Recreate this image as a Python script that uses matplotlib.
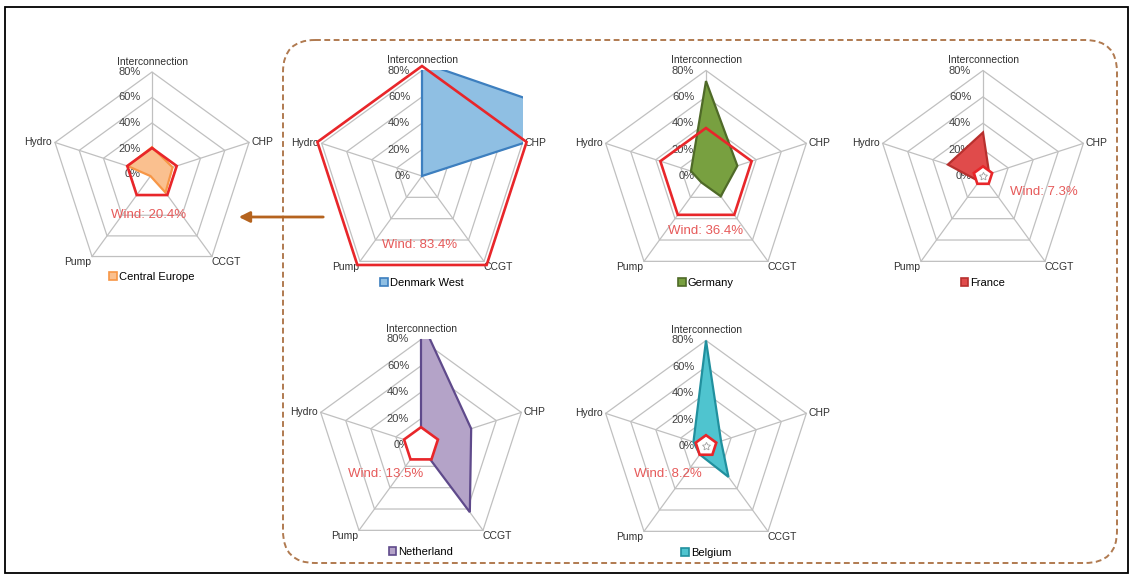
import numpy as np
import matplotlib.pyplot as plt
from matplotlib.patches import Patch, Polygon, FancyBboxPatch, FancyArrowPatch, Rectangle

plt.rcParams['font.family'] = ['Liberation Sans', 'DejaVu Sans']

# radar axes, clockwise from the top
categories = ['Interconnection', 'CHP', 'CCGT', 'Pump', 'Hydro']
ring_levels = [0.2, 0.4, 0.6, 0.8]
tick_values = [0.0, 0.2, 0.4, 0.6, 0.8]
tick_labels = ['0%', '20%', '40%', '60%', '80%']

regions = ['Central Europe', 'Denmark West', 'Germany', 'France', 'Netherland', 'Belgium']
central_europe = [0.21, 0.17, 0.18, 0.02, 0.20]
denmark_west = [0.86, 1.35, 0.0, 0.0, 0.0]
germany = [0.72, 0.25, 0.19, 0.06, 0.12]
france = [0.33, 0.05, 0.03, 0.05, 0.28]
netherland = [0.95, 0.40, 0.63, 0.01, 0.0]
belgium = [0.80, 0.12, 0.29, 0.08, 0.10]
wind_share = [20.4, 83.4, 36.4, 7.3, 13.5, 8.2]

series = [central_europe, denmark_west, germany, france, netherland, belgium]

fill_colors = ['#fac08f', '#8fbfe3', '#78a040', '#e04b4b', '#b4a3c8', '#4fc4cf']
edge_colors = ['#f79646', '#3d7fbf', '#4f6a28', '#b8302e', '#5f4a8b', '#21909e']
wind_color = '#e8262a'
wind_text_color = '#e65a5a'
grid_color = '#c0c0c0'

# chart centre and 80% radius in pixels
centers = [(152, 174), (422, 176), (706, 176), (983, 176), (421, 445), (706, 446)]
radii = [102, 105.5, 105.5, 105.5, 105.5, 105.5]
wind_pos = [(-0.03, -0.32), (-0.02, -0.52), (0.0, -0.42), (0.46, -0.12), (-0.27, -0.22), (-0.29, -0.21)]
wind_on_top = [False, False, False, True, True, True]

W, H = 1134, 578
fig = plt.figure(figsize=(W / 100, H / 100), dpi=100)

# background layer in pixel units: frame, dashed group box, arrow
bg = fig.add_axes([0, 0, 1, 1])
bg.set_xlim(0, W)
bg.set_ylim(H, 0)
bg.axis('off')
bg.add_patch(Rectangle((5, 7), 1123, 566, fill=False, ec='black', lw=1.3))
bg.add_patch(FancyBboxPatch((283, 40), 834, 523, boxstyle='round,pad=0,rounding_size=32',
                            fill=False, ec='#b07a50', lw=1.4, ls=(0, (3, 1.8))))
bg.add_patch(FancyArrowPatch((326, 217), (236, 217), arrowstyle='-|>', mutation_scale=16,
                             color='#b5631e', lw=2))

ang = np.deg2rad(90 - 72 * np.arange(5))
cs, sn = np.cos(ang), np.sin(ang)
m = 0.005
xmax = 0.8 * cs[1] + m
ymin = 0.8 * sn[2] - m
ymax = 0.8 + m

for i, name in enumerate(regions):
    cx, cy = centers[i]
    s = radii[i] / 0.8
    w = 2 * xmax * s
    h = (ymax - ymin) * s
    left = cx - xmax * s
    top = cy - ymax * s
    ax = fig.add_axes([left / W, 1 - (top + h) / H, w / W, h / H])
    ax.set_xlim(-xmax, xmax)
    ax.set_ylim(ymin, ymax)
    ax.axis('off')

    # grid
    for r in ring_levels:
        ax.add_patch(Polygon(np.c_[r * cs, r * sn], closed=True, fill=False,
                             ec=grid_color, lw=0.9, zorder=1, clip_on=False))
    for k in range(5):
        ax.plot([0, 0.8 * cs[k]], [0, 0.8 * sn[k]], color=grid_color, lw=0.9, zorder=1,
                clip_on=False)

    # tick labels up the vertical axis, under the filled series
    for v, t in zip(tick_values, tick_labels):
        ax.text(-0.09, v, t, ha='right', va='center', fontsize=8, color='#404040',
                zorder=1.5, clip_on=False)

    vals = np.array(series[i])
    ax.add_patch(Polygon(np.c_[vals * cs, vals * sn], closed=True, fc=fill_colors[i],
                         ec=edge_colors[i], lw=1.6, zorder=2))

    wr = wind_share[i] / 100
    if wind_on_top[i]:
        ax.add_patch(Polygon(np.c_[wr * cs, wr * sn], closed=True, fc='white', ec='none', zorder=3))
        if wr < 0.1:
            ax.plot(0, 0, marker=(5, 1, 0), ms=6, mfc='none', mec='#a0a0a0', mew=0.6, zorder=3)
    ax.add_patch(Polygon(np.c_[wr * cs, wr * sn], closed=True, fill=False,
                         ec=wind_color, lw=1.9, zorder=4, clip_on=False))

    # category labels
    x0, y0 = 0.8 * cs, 0.8 * sn
    lab = dict(fontsize=7.5, color='#303030', clip_on=False)
    ax.text(x0[0], y0[0] + 0.04, categories[0], ha='center', va='bottom', **lab)
    ax.text(x0[1] + 0.02, y0[1], categories[1], ha='left', va='center', **lab)
    ax.text(x0[2] - 0.005, y0[2] - 0.045, categories[2], ha='left', va='center', **lab)
    ax.text(x0[3] - 0.005, y0[3] - 0.045, categories[3], ha='right', va='center', **lab)
    ax.text(x0[4] - 0.025, y0[4], categories[4], ha='right', va='center', **lab)

    wx, wy = wind_pos[i]
    ax.text(wx, wy, 'Wind: %.1f%%' % wind_share[i], ha='center', va='center',
            fontsize=9.5, color=wind_text_color, zorder=6)

    ax.legend(handles=[Patch(fc=fill_colors[i], ec=edge_colors[i], lw=1.2, label=name)],
              loc='center', bbox_to_anchor=(0, -0.81), bbox_transform=ax.transData,
              frameon=False, fontsize=8, handlelength=0.7, handleheight=0.7,
              handletextpad=0.2, borderaxespad=0, borderpad=0)

fig.savefig('out.png', dpi=100)
